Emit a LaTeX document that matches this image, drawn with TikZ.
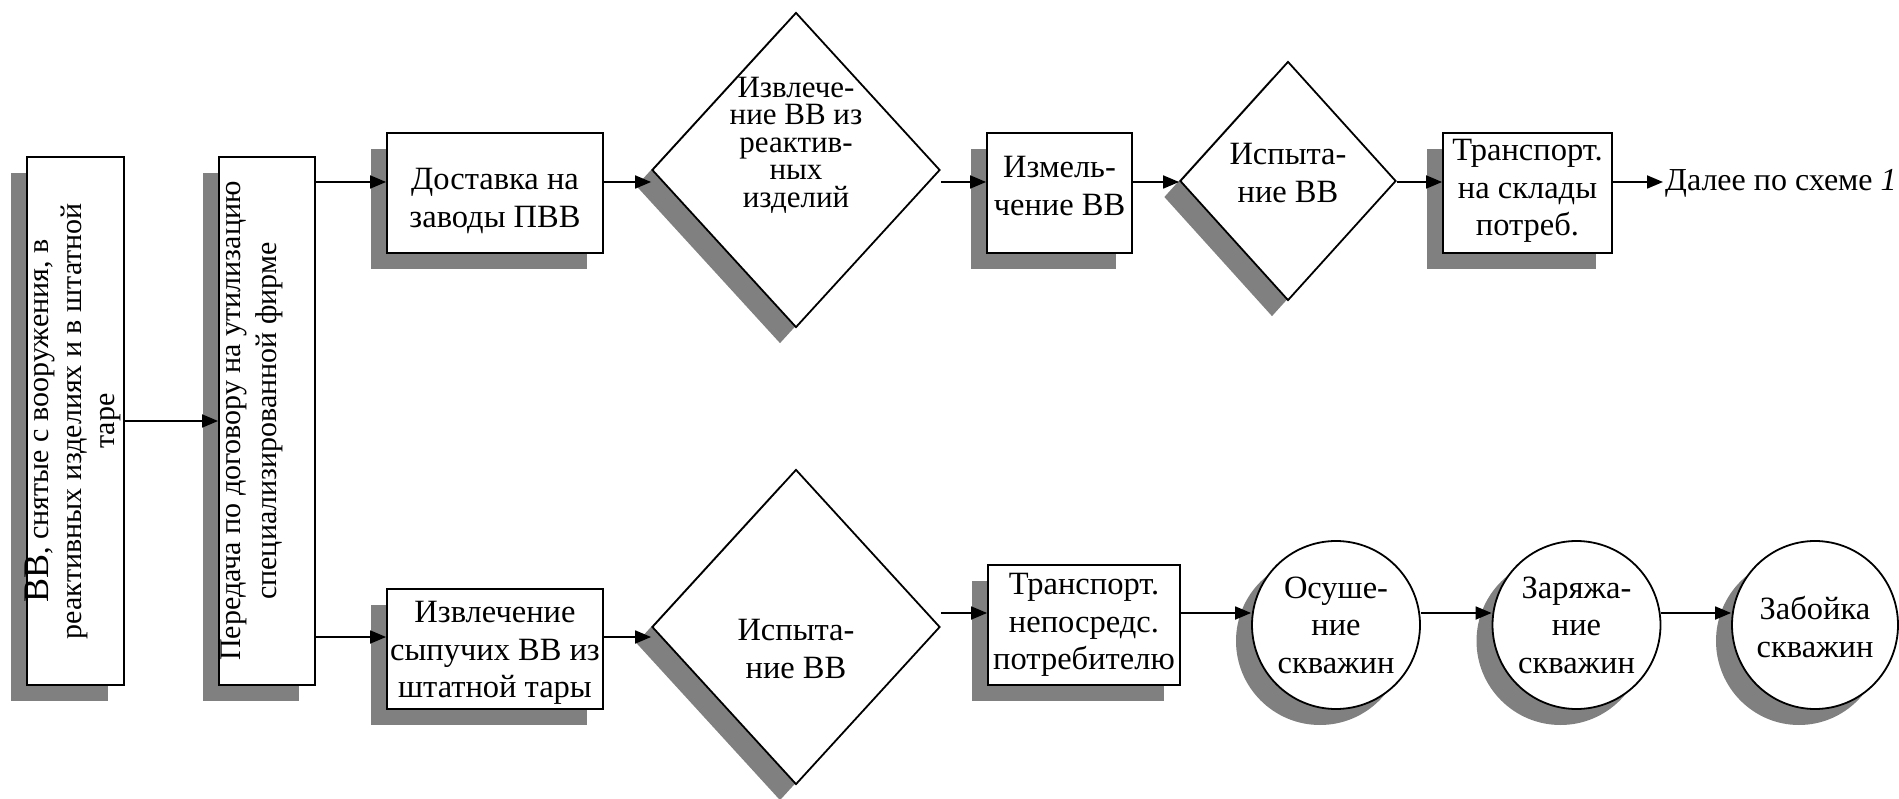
\documentclass[tikz,border=0pt]{standalone}
\usepackage{fontspec}
\setmainfont{Liberation Serif}
\usetikzlibrary{shapes.geometric,shadows,arrows.meta,calc}
\definecolor{shade}{HTML}{808080}
% tightly packed lines for the tall diamond label
\newcommand\tightlines{\fontsize{31}{27.5}\selectfont\lineskiplimit=-20pt\relax}
\begin{document}
\begin{tikzpicture}[x=1pt,y=-1pt,
  shadowed/.style={draw=black, line width=1.8pt, fill=white,
    drop shadow={shadow xshift=-16pt, shadow yshift=-16pt, fill=shade, opacity=1}},
  box/.style={shadowed, rectangle, inner sep=0pt},
  dec/.style={shadowed, diamond, inner sep=0pt},
  oval/.style={shadowed, ellipse, inner sep=0pt},
  lbl/.style={align=center, inner sep=0pt, font=\fontsize{32.5}{37.5}\selectfont},
  vlbl/.style={align=center, inner sep=0pt, rotate=90},
  flow/.style={line width=1.8pt, -{Triangle[length=16pt,width=13pt]}}
]
\useasboundingbox (0,0) rectangle (1899,799);

% arrow levels
\coordinate (r1) at (0,182);
\coordinate (r2) at (0,637);
\coordinate (r3) at (0,613);

% left column: source and contract
\node[box, minimum width=97pt, minimum height=528pt] (src) at (75.5,421) {};
\node[box, minimum width=96pt, minimum height=528pt] (deal) at (267,421) {};
\node[vlbl, font=\fontsize{30}{33}\selectfont] (src-t) at (73,421)
  {{\fontsize{36}{33}\selectfont ВВ}, снятые с вооружения, в\\реактивных изделиях и в штатной\\таре};
\node[vlbl, font=\fontsize{30}{36}\selectfont] (deal-t) at (252,421)
  {Передача по договору на утилизацию\\специализированной фирме};

% upper branch
\node[box, minimum width=216pt, minimum height=120pt] (dost) at (495,193) {};
\node[dec, minimum width=288pt, minimum height=315pt] (dia1) at (796,170) {};
\node[box, minimum width=145pt, minimum height=120pt] (izm) at (1059.5,193) {};
\node[dec, minimum width=216pt, minimum height=239pt] (dia2) at (1288,181) {};
\node[box, minimum width=169pt, minimum height=120pt] (trs) at (1527.5,193) {};
\node[lbl, anchor=base west, font=\fontsize{32}{37.5}\selectfont] (nxt) at (1665,191) {Далее по схеме \textit{1}};

\node[lbl] (dost-t) at ([yshift=-8pt]dost.center) {Доставка на\\заводы ПВВ};
\node[lbl, font=\tightlines] (dia1-t) at (796,145)
  {Извлече-\\ние ВВ из\\реактив-\\ных\\изделий};
\node[lbl] (izm-t) at ([yshift=7pt]izm.center) {Измель-\\чение ВВ};
\node[lbl] (dia2-t) at (1288,173) {Испыта-\\ние ВВ};
\node[lbl] (trs-t) at ([yshift=2pt]trs.center) {Транспорт.\\на склады\\потреб.};

% lower branch
\node[box, minimum width=216pt, minimum height=120pt] (izv) at (495,649) {};
\node[dec, minimum width=288pt, minimum height=315pt] (dia3) at (796,627) {};
\node[box, minimum width=192pt, minimum height=120pt] (trn) at (1084,625) {};
\node[oval, minimum width=168pt, minimum height=168pt] (os) at (1336,625) {};
\node[oval, minimum width=168pt, minimum height=168pt] (zar) at (1576.5,625) {};
\node[oval, minimum width=166pt, minimum height=168pt] (zab) at (1815,625) {};

\node[lbl] (izv-t) at ([yshift=-4pt]izv.center) {Извлечение\\сыпучих ВВ из\\штатной тары};
\node[lbl] (dia3-t) at (796,649) {Испыта-\\ние ВВ};
\node[lbl] (trn-t) at (trn.center) {Транспорт.\\непосредс.\\потребителю};
\node[lbl] (os-t) at (os.center) {Осуше-\\ние\\скважин};
\node[lbl] (zar-t) at (zar.center) {Заряжа-\\ние\\скважин};
\node[lbl] (zab-t) at ([yshift=-2pt]zab.center) {Забойка\\скважин};

% connectors
\draw[flow] (src.east) -- (deal.west);
\draw[flow] (deal.east |- r1) -- (dost.west |- r1);
\draw[flow] (deal.east |- r2) -- (izv.west |- r2);
\draw[flow] (dost.east |- r1) -- (dia1.west |- r1);
\draw[flow] (dia1.east |- r1) -- (izm.west |- r1);
\draw[flow] (izm.east |- r1) -- (dia2.west |- r1);
\draw[flow] (dia2.east |- r1) -- (trs.west |- r1);
\draw[flow] (trs.east |- r1) -- ([xshift=-2pt]nxt.west |- r1);
\draw[flow] (izv.east |- r2) -- (dia3.west |- r2);
\draw[flow] (dia3.east |- r3) -- (trn.west |- r3);
\draw[flow] (trn.east |- r3) -- (os.west |- r3);
\draw[flow] (os.east |- r3) -- (zar.west |- r3);
\draw[flow] (zar.east |- r3) -- (zab.west |- r3);
\end{tikzpicture}
\end{document}
